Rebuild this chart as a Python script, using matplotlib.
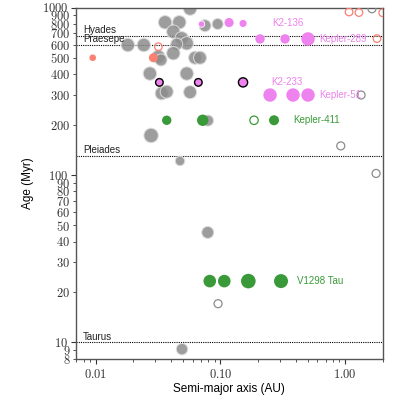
import matplotlib
matplotlib.use("Agg")
import matplotlib.pyplot as plt
from matplotlib.ticker import FixedLocator, FuncFormatter, NullFormatter

plt.rcParams['font.family'] = ['Liberation Sans', 'DejaVu Sans']
plt.rcParams['mathtext.fontset'] = 'cm'

# ---------------- data ----------------
# Field young planets (grey, filled)
grey_a = [0.0181, 0.0243, 0.0360, 0.0468, 0.0571, 0.0419, 0.0489, 0.0537, 0.0446,
          0.0419, 0.0626, 0.0686, 0.0318, 0.0334, 0.0752, 0.0950, 0.0272, 0.0537,
          0.0338, 0.0371, 0.0571, 0.0795, 0.0278, 0.0474, 0.0791, 0.0492]
grey_age = [597, 597, 816, 816, 985, 717, 655, 611, 604,
            533, 501, 501, 508, 486, 779, 797, 403, 403,
            307, 314, 312, 211, 172, 121, 45.3, 9.1]
grey_r = [6.7, 6.7, 6.7, 6.7, 6.7, 6.7, 6.7, 6.7, 6.0,
          6.7, 6.5, 6.5, 6.7, 6.0, 6.0, 5.5, 6.7, 6.7,
          6.5, 6.5, 6.5, 5.5, 7.2, 4.7, 6.0, 5.7]

# Non-transiting (grey, open)
grey_open_a = [0.922, 1.77, 1.342, 0.0957, 1.64]
grey_open_age = [149, 102, 300, 17.0, 983]

# Salmon (filled and open)
red_a = [0.00946, 0.0290]
red_age = [501, 501]
red_r = [3.3, 4.5]
red_open_a = [0.0318, 1.075, 1.29, 2.0, 1.80]
red_open_age = [583, 940, 933, 930, 652]

# Highlighted systems
k2_136_a = [0.0705, 0.1173, 0.1518]
k2_136_age = [796, 813, 803]
k2_136_r = [3.2, 5.0, 4.0]

kepler289_a = [0.2078, 0.3297, 0.504]
kepler289_age = [649, 649, 649]
kepler289_r = [4.7, 4.7, 6.7]

k2_233_a = [0.0324, 0.0665, 0.1518]
k2_233_age = [357, 357, 357]
k2_233_r = [3.8, 3.8, 4.6]

kepler51_a = [0.25, 0.382, 0.504]
kepler51_age = [300, 300, 300]
kepler51_r = [6.7, 6.7, 6.7]

kepler411_a = [0.0371, 0.0721, 0.269]
kepler411_age = [212, 212, 212]
kepler411_r = [4.7, 5.7, 5.0]
kepler411_open_a = [0.186]
kepler411_open_age = [212]

v1298_a = [0.0821, 0.1074, 0.1674, 0.306]
v1298_age = [23.2, 23.2, 23.2, 23.2]
v1298_r = [6.3, 6.3, 7.3, 7.0]

clusters = ['Hyades', 'Praesepe', 'Pleiades', 'Taurus']
cluster_age = [680, 597, 130, 10]

system_labels = ['K2-136', 'Kepler-289', 'K2-233', 'Kepler-51', 'Kepler-411', 'V1298 Tau']
label_a = [0.259, 0.617, 0.255, 0.617, 0.382, 0.41]
label_age = [813, 649, 357, 300, 212, 23.2]
label_colors = ['violet', 'violet', 'violet', 'violet', '#3a9a3a', '#3a9a3a']

# ---------------- plot ----------------
def s_of(r):
    return [(2 * x * 0.72) ** 2 for x in r]

fig = plt.figure(figsize=(3.99, 4.03), dpi=100)
ax = fig.add_axes([76 / 399, 1 - 358.5 / 403, (382.7 - 76) / 399, (358.5 - 7.5) / 403])
ax.set_xscale('log')
ax.set_yscale('log')
ax.set_xlim(0.00695, 2.0)
ax.set_ylim(8, 1000)

GREEN = '#3a9a3a'
PINK = 'violet'
SALMON = 'salmon'

ax.scatter(grey_a, grey_age, s=s_of(grey_r), c='#8c8c8c', alpha=0.85,
           edgecolors='#dddddd', linewidths=0.8, zorder=2)
ax.scatter(grey_open_a, grey_open_age, s=s_of([4] * len(grey_open_a)),
           facecolors='none', edgecolors='#8c8c8c', linewidths=0.9, zorder=3)
ax.scatter(red_a, red_age, s=s_of(red_r), c=SALMON, edgecolors='none', zorder=3)
ax.scatter(red_open_a, red_open_age, s=s_of([3.8] * len(red_open_a)),
           facecolors='none', edgecolors=SALMON, linewidths=0.9, zorder=3)

ax.scatter(k2_136_a, k2_136_age, s=s_of(k2_136_r), c=PINK, edgecolors='white',
           linewidths=0.6, zorder=4)
ax.scatter(kepler289_a, kepler289_age, s=s_of(kepler289_r), c=PINK,
           edgecolors='none', zorder=4)
ax.scatter(k2_233_a, k2_233_age, s=s_of(k2_233_r), c=PINK, edgecolors='black',
           linewidths=1.0, zorder=4)
ax.scatter(kepler51_a, kepler51_age, s=s_of(kepler51_r), c=PINK,
           edgecolors='none', zorder=4)
ax.scatter(kepler411_a, kepler411_age, s=s_of(kepler411_r), c=GREEN,
           edgecolors='none', zorder=4)
ax.scatter(kepler411_open_a, kepler411_open_age, s=s_of([4.2]), facecolors='none',
           edgecolors=GREEN, linewidths=0.9, zorder=4)
ax.scatter(v1298_a, v1298_age, s=s_of(v1298_r), c=GREEN, edgecolors='none', zorder=4)

for name, age in zip(clusters, cluster_age):
    ax.axhline(age, color='black', ls=(0, (1, 1)), lw=0.8, zorder=1)
    ax.text(0.023, age * 1.01, name, transform=ax.get_yaxis_transform(),
            fontsize=7, va='bottom', ha='left', color='#222222')

for name, a, age, col in zip(system_labels, label_a, label_age, label_colors):
    ax.text(a, age, name, fontsize=7, color=col, va='center', ha='left', zorder=5)

# ticks
y_major = [10, 100, 1000]
y_minor = [8, 9, 20, 30, 40, 50, 60, 70, 80, 90,
           200, 300, 400, 500, 600, 700, 800, 900]
ax.yaxis.set_major_locator(FixedLocator(y_major))
ax.yaxis.set_minor_locator(FixedLocator(y_minor))
yfmt = FuncFormatter(lambda v, p: r'$%d$' % round(v))
ax.yaxis.set_major_formatter(yfmt)
ax.yaxis.set_minor_formatter(yfmt)

x_major = [0.01, 0.1, 1.0]
ax.xaxis.set_major_locator(FixedLocator(x_major))
ax.xaxis.set_major_formatter(FuncFormatter(lambda v, p: r'$%.2f$' % v))
ax.xaxis.set_minor_formatter(NullFormatter())

ax.tick_params(which='major', direction='out', length=3.5, width=0.8,
               labelsize=9, colors='#333333', pad=2)
ax.tick_params(which='minor', direction='out', length=2, width=0.6,
               labelsize=9, colors='#333333', pad=2)
ax.tick_params(axis='x', which='major', pad=3.5)

for sp in ax.spines.values():
    sp.set_color('#555555')
    sp.set_linewidth(1.0)

ax.set_xlabel('Semi-major axis (AU)', fontsize=8.5, labelpad=1.5)
ax.set_ylabel('Age (Myr)', fontsize=8.5, labelpad=6)

fig.savefig('out.png', dpi=100)
